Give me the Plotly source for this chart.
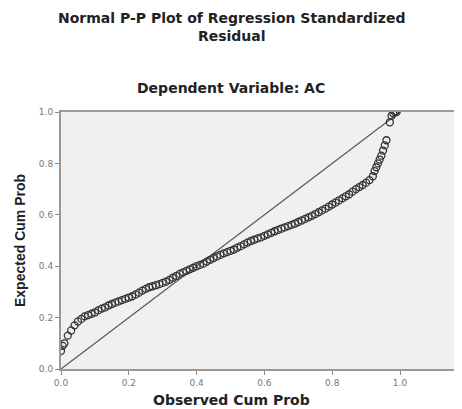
import plotly.graph_objects as go

observed = [0.000, 0.005, 0.010, 0.020, 0.030, 0.040, 0.050, 0.060, 0.070, 0.080,
            0.090, 0.100, 0.110, 0.120, 0.130, 0.140, 0.150, 0.160, 0.170, 0.180,
            0.190, 0.200, 0.210, 0.220, 0.230, 0.240, 0.250, 0.260, 0.270, 0.280,
            0.290, 0.300, 0.310, 0.320, 0.330, 0.340, 0.350, 0.360, 0.370, 0.380,
            0.390, 0.400, 0.410, 0.420, 0.430, 0.440, 0.450, 0.460, 0.470, 0.480,
            0.490, 0.500, 0.510, 0.520, 0.530, 0.540, 0.550, 0.560, 0.570, 0.580,
            0.590, 0.600, 0.610, 0.620, 0.630, 0.640, 0.650, 0.660, 0.670, 0.680,
            0.690, 0.700, 0.710, 0.720, 0.730, 0.740, 0.750, 0.760, 0.770, 0.780,
            0.790, 0.800, 0.810, 0.820, 0.830, 0.840, 0.850, 0.860, 0.870, 0.880,
            0.890, 0.900, 0.910, 0.920, 0.925, 0.930, 0.935, 0.940, 0.945, 0.950,
            0.955, 0.960, 0.970, 0.975, 0.980, 0.985, 0.990]
expected = [0.070, 0.090, 0.100, 0.130, 0.150, 0.170, 0.185, 0.195, 0.205, 0.210,
            0.215, 0.220, 0.228, 0.235, 0.240, 0.247, 0.253, 0.258, 0.263, 0.268,
            0.273, 0.278, 0.283, 0.290, 0.297, 0.305, 0.312, 0.318, 0.322, 0.326,
            0.330, 0.335, 0.340, 0.347, 0.355, 0.362, 0.370, 0.376, 0.382, 0.388,
            0.394, 0.400, 0.405, 0.410, 0.418, 0.425, 0.432, 0.438, 0.444, 0.450,
            0.455, 0.460, 0.465, 0.472, 0.478, 0.485, 0.492, 0.498, 0.503, 0.508,
            0.512, 0.518, 0.524, 0.530, 0.536, 0.541, 0.546, 0.551, 0.556, 0.561,
            0.566, 0.572, 0.578, 0.584, 0.590, 0.596, 0.603, 0.610, 0.617, 0.624,
            0.632, 0.640, 0.648, 0.656, 0.664, 0.672, 0.680, 0.690, 0.700, 0.708,
            0.716, 0.725, 0.735, 0.750, 0.770, 0.785, 0.800, 0.815, 0.830, 0.850,
            0.870, 0.890, 0.960, 0.985, 0.995, 1.000, 1.000]

diag_x = [0.0, 1.0]
diag_y = [0.0, 1.0]
tick_vals = [0.0, 0.2, 0.4, 0.6, 0.8, 1.0]
tick_text = ["0.0", "0.2", "0.4", "0.6", "0.8", "1.0"]

WIDE = "DejaVu Sans, Verdana, sans-serif"
NARROW = "Liberation Sans, Arial, sans-serif"

# The page body adds an 8px margin, so the figure is 8px smaller and
# every layout pixel below is in figure coordinates (screen - 8).
W, H = 454, 401
L, R, T, B = 53, 0, 104, 40
pw, ph = W - L - R, H - T - B


def px_to_paper(px, py):
    return (px - L) / pw, (H - B - py) / ph


fig = go.Figure()
fig.add_trace(go.Scatter(x=diag_x, y=diag_y, mode="lines",
                         line=dict(color="#555555", width=1.2),
                         hoverinfo="skip", showlegend=False))
fig.add_trace(go.Scatter(x=observed, y=expected, mode="markers",
                         marker=dict(symbol="circle-open", size=7,
                                     color="#333333", line=dict(width=1.3)),
                         showlegend=False))

tx, ty = px_to_paper(223, 0)
sx, sy = px_to_paper(223, 80)
ox, oy = px_to_paper(223, 392)
ex, ey = px_to_paper(12, 233)

fig.update_layout(
    width=W, height=H,
    margin=dict(l=L, r=R, t=T, b=B),
    paper_bgcolor="white", plot_bgcolor="#f0f0f0",
    font=dict(family=NARROW, color="#333333"),
    xaxis=dict(range=[0, pw / 339.0], tickvals=tick_vals, ticktext=tick_text,
               showgrid=False, zeroline=False, showline=True, mirror=True,
               linecolor="#999999", linewidth=2, ticks="outside", ticklen=4,
               tickcolor="#888888",
               tickfont=dict(family=WIDE, size=9, color="#777777")),
    yaxis=dict(range=[0, 1.0], tickvals=tick_vals, ticktext=tick_text,
               showgrid=False, zeroline=False, showline=True,
               linecolor="#999999", linewidth=2, ticks="outside", ticklen=4,
               tickcolor="#888888",
               tickfont=dict(family=WIDE, size=9, color="#777777")),
    annotations=[
        dict(text="<b>Normal P-P Plot of Regression Standardized<br>Residual</b>",
             x=tx, y=ty, xref="paper", yref="paper", showarrow=False,
             font=dict(family=WIDE, size=14, color="#222222"),
             xanchor="center", yanchor="top"),
        dict(text="<b>Dependent Variable: AC</b>", x=sx, y=sy,
             xref="paper", yref="paper", showarrow=False,
             font=dict(family=WIDE, size=14, color="#222222"),
             xanchor="center", yanchor="middle"),
        dict(text="<b>Observed Cum Prob</b>", x=ox, y=oy,
             xref="paper", yref="paper", showarrow=False,
             font=dict(family=WIDE, size=14, color="#222222"),
             xanchor="center", yanchor="middle"),
        dict(text="<b>Expected Cum Prob</b>", x=ex, y=ey,
             xref="paper", yref="paper", showarrow=False, textangle=-90,
             font=dict(family=NARROW, size=14, color="#222222"),
             xanchor="center", yanchor="middle"),
    ],
)

fig.write_html("out.html")
